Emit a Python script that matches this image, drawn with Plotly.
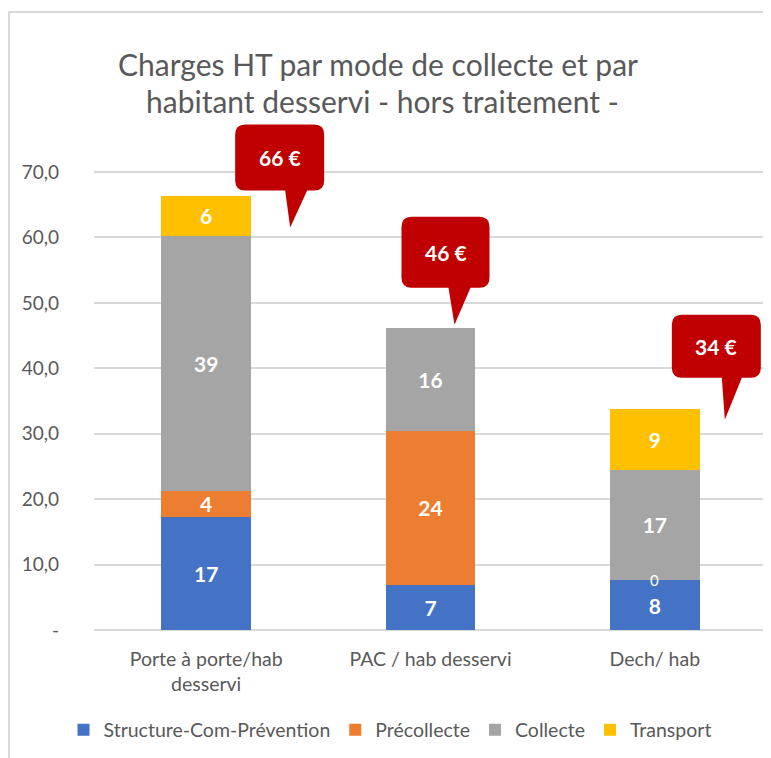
import plotly.graph_objects as go

categories = ["Porte à porte/hab<br>desservi", "PAC / hab desservi", "Dech/ hab"]
series_names = ["Structure-Com-Prévention", "Précollecte", "Collecte", "Transport"]
structure = [17.3, 6.9, 7.6]
precollecte = [4.0, 23.5, 0.0]
collecte = [38.9, 15.8, 16.9]
transport = [6.2, 0.0, 9.3]
y_tickvals = [0, 10, 20, 30, 40, 50, 60, 70]
y_ticktext = ["-", "10,0", "20,0", "30,0", "40,0", "50,0", "60,0", "70,0"]
title_lines = ["Charges HT par mode de collecte et par", "habitant desservi - hors traitement -"]

colors = ["#4472C4", "#ED7D31", "#A5A5A5", "#FFC000"]
FONT = "Lato"
GREY = "#595959"

# layout geometry (figure pixels)
L, R, T, B = 86, 12, 102, 136
PW, PH = 771 - L - R, 758 - T - B

all_series = [structure, precollecte, collecte, transport]
totals = [sum(s[i] for s in all_series) for i in range(len(categories))]

fig = go.Figure()
for name, vals, col in zip(series_names, all_series, colors):
    labels = [f"{v:.0f}" if v > 0 else "" for v in vals]
    fig.add_trace(go.Bar(
        x=categories, y=vals, name=name, marker_color=col,
        marker_line_width=0,
        text=labels, texttemplate="%{text}", textposition="inside",
        insidetextanchor="middle", textangle=0, constraintext="none",
        textfont=dict(family=FONT, size=21, color="white", weight="bold"),
        hoverinfo="skip",
    ))

# zero-value label for Précollecte (drawn at its stack base)
for i, v in enumerate(precollecte):
    if v == 0 and structure[i] > 0:
        fig.add_annotation(x=categories[i], y=structure[i], text="0",
                           showarrow=False, yanchor="middle",
                           font=dict(family=FONT, size=15, color="white"))

# callouts: box left, right, top, bottom, tail base 1, tail base 2, tip x, tip y (px relative to bar top)
callout_geom = [
    (29, 118, 71, 5, 79, 101, 84, -32),
    (-29, 59, 111, 40, 18, 40, 24, 3),
    (17, 106, 94, 31, 67, 87, 70, -11),
]
r = 10
for i, (x0, x1, yt, yb, b1, b2, tx, ty) in enumerate(callout_geom):
    path = (f"M{x0 + r},{yt} L{x1 - r},{yt} Q{x1},{yt} {x1},{yt - r} "
            f"L{x1},{yb + r} Q{x1},{yb} {x1 - r},{yb} L{b2},{yb} L{tx},{ty} L{b1},{yb} "
            f"L{x0 + r},{yb} Q{x0},{yb} {x0},{yb + r} L{x0},{yt - r} Q{x0},{yt} {x0 + r},{yt} Z")
    fig.add_shape(type="path", xref="x", yref="y", xsizemode="pixel", ysizemode="pixel",
                  xanchor=categories[i], yanchor=totals[i], path=path,
                  fillcolor="#C00000", line=dict(width=0), layer="above")
    fig.add_annotation(x=categories[i], y=totals[i], text=f"{totals[i]:.0f} €",
                       showarrow=False, xshift=(x0 + x1) / 2, yshift=(yt + yb) / 2,
                       font=dict(family=FONT, size=21, color="white", weight="bold"))

# chart border
fig.add_shape(type="rect", xref="paper", yref="paper",
              x0=(1 - L) / PW, x1=(800 - L) / PW, y0=(PH - 800) / PH, y1=(T + PH - 4) / PH,
              line=dict(color="#D9D9D9", width=2), fillcolor="rgba(0,0,0,0)", layer="below")

# second title line
fig.add_annotation(xref="paper", yref="paper", x=(374 - L) / PW, y=(T + PH - 93) / PH,
                   xanchor="center", yanchor="middle", showarrow=False,
                   text=title_lines[1], font=dict(family=FONT, size=30, color=GREY))

fig.update_layout(
    width=771, height=758,
    margin=dict(l=L, r=R, t=T, b=B),
    paper_bgcolor="white", plot_bgcolor="white",
    barmode="stack", bargap=0.6,
    font=dict(family=FONT, color=GREY),
    title=dict(text=title_lines[0], xref="container", yref="container",
               x=370 / 771, xanchor="center", y=1 - 57 / 758, yanchor="middle",
               font=dict(family=FONT, size=30, color=GREY)),
    showlegend=True,
    legend=dict(orientation="h", x=(382 - L) / PW, xanchor="center",
                y=(T + PH - 722) / PH, yanchor="middle",
                font=dict(family=FONT, size=19.5, color=GREY), traceorder="normal"),
)
fig.update_xaxes(showgrid=False, showline=False, ticks="", ticklabelstandoff=15,
                 tickfont=dict(family=FONT, size=19.5, color=GREY))
fig.update_yaxes(range=[0, 70 * PH / 458], tickvals=y_tickvals, ticktext=y_ticktext,
                 showgrid=True, gridcolor="#D9D9D9", gridwidth=1.5, zeroline=True,
                 zerolinecolor="#D9D9D9", zerolinewidth=1.5, ticks="", ticklabelstandoff=34,
                 tickfont=dict(family=FONT, size=19, color=GREY))

fig.write_html("out.html")
